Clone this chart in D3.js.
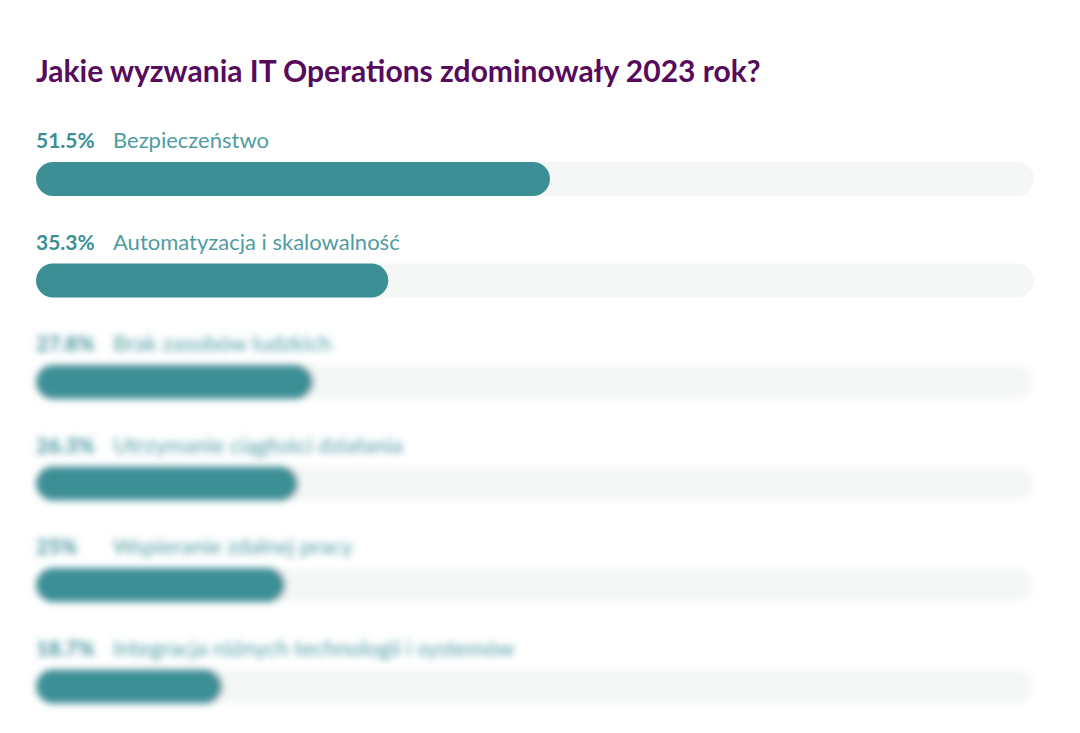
<!DOCTYPE html>
<html>
<head>
    <title>IT Operations 2023</title>
    <meta charset="utf-8">
    <style>
        html, body { margin: 0; padding: 0; background: #fff; }
    </style>
</head>
<body>

<svg id="svg"></svg>
<script src="https://cdn.jsdelivr.net/npm/d3@7"></script>
<script>
    const title = 'Jakie wyzwania IT Operations zdominowały 2023 rok?'
    const categories = [
        'Bezpieczeństwo',
        'Automatyzacja i skalowalność',
        'Brak zasobów ludzkich',
        'Utrzymanie ciągłości działania',
        'Wspieranie zdalnej pracy',
        'Integracja różnych technologii i systemów'
    ]
    const values = [51.5, 35.3, 27.8, 26.3, 25, 18.7]
    const valueLabels = ['51.5%', '35.3%', '27.8%', '26.3%', '25%', '18.7%']
    // rows hidden behind the blur
    const blurredFrom = 2

    const WIDTH = 1080
    const HEIGHT = 733
    const BAR_H = 34
    const FONT = 'Lato, "Open Sans", sans-serif'

    const svg = d3.select('svg')
        .attr('width', WIDTH)
        .attr('height', HEIGHT)

    svg.append('defs').append('filter')
        .attr('id', 'blur')
        .attr('x', '-5%').attr('y', '-50%')
        .attr('width', '110%').attr('height', '200%')
        .append('feGaussianBlur')
        .attr('stdDeviation', 3.5)

    const x = d3.scaleLinear().domain([0, 100]).range([36, 1034])
    const y = d3.scaleLinear().domain([0, categories.length - 1]).range([162, 669.5])

    svg.append('text')
        .attr('x', 36)
        .attr('y', 82)
        .attr('font-family', FONT)
        .attr('font-weight', 'bold')
        .attr('font-size', 30)
        .attr('fill', '#560b5c')
        .text(title)

    const rows = svg.append('g')
        .selectAll('g')
        .data(categories)
        .enter().append('g')
        .attr('transform', (d, i) => `translate(0,${y(i)})`)
        .attr('filter', (d, i) => i >= blurredFrom ? 'url(#blur)' : null)

    rows.append('rect')
        .attr('x', x(0))
        .attr('width', x(100) - x(0))
        .attr('height', BAR_H)
        .attr('rx', BAR_H / 2)
        .attr('fill', '#f5f7f7')

    rows.append('rect')
        .attr('x', x(0))
        .attr('width', (d, i) => x(values[i]) - x(0))
        .attr('height', BAR_H)
        .attr('rx', BAR_H / 2)
        .attr('fill', '#3d8f96')

    rows.append('text')
        .attr('x', 36)
        .attr('y', -14)
        .attr('font-family', FONT)
        .attr('font-weight', 'bold')
        .attr('font-size', 21)
        .attr('fill', '#3d8f96')
        .text((d, i) => valueLabels[i])

    rows.append('text')
        .attr('x', 113)
        .attr('y', -14)
        .attr('font-family', FONT)
        .attr('font-size', 22)
        .attr('fill', '#4f9ca2')
        .text(d => d)
</script>
</body>
</html>
